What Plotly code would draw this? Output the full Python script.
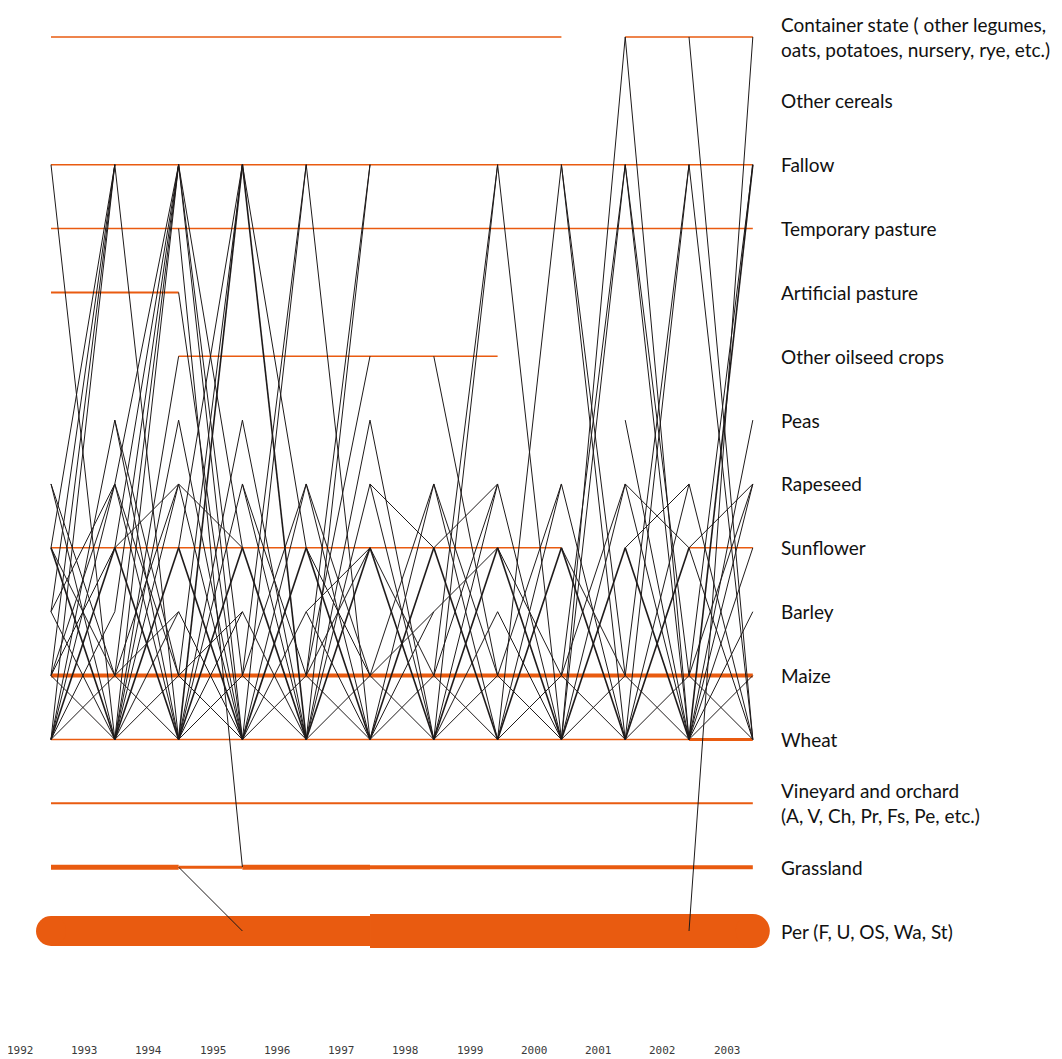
import plotly.graph_objects as go

# ---------------- data ----------------
years = list(range(1992, 2004))

cat_codes = ["E", "G", "V", "W", "M", "B", "S", "R", "P", "O", "A", "T", "F", "C", "K"]
cat_labels = [
    "Per (F, U, OS, Wa, St)",
    "Grassland",
    "Vineyard and orchard<br>(A, V, Ch, Pr, Fs, Pe, etc.)",
    "Wheat",
    "Maize",
    "Barley",
    "Sunflower",
    "Rapeseed",
    "Peas",
    "Other oilseed crops",
    "Artificial pasture",
    "Temporary pasture",
    "Fallow",
    "Other cereals",
    "Container state ( other legumes,<br>oats, potatoes, nursery, rye, etc.)",
]

# parcels staying in the same land use (orange)
stay_cat = ["K", "K", "F", "T", "A", "O", "S", "S", "M", "W", "W", "V", "G", "G", "G", "G", "E", "E"]
stay_from = [1992, 2001, 1992, 1992, 1992, 1994, 1992, 2002, 1992, 1992, 2002, 1992, 1992, 1994, 1995, 1997, 1992, 1997]
stay_to = [2000, 2003, 2003, 2003, 1994, 1999, 2000, 2003, 2003, 2002, 2003, 2003, 1994, 1995, 1997, 2003, 1997, 2003]
stay_parcels = [1, 1, 1, 1, 2, 1, 1, 1, 4, 1, 3, 2, 5, 3, 5, 4, 30, 34]

# transitions from year y to y+1 ("from>to", "*2" = two parcels)
t1992 = ["F>W", "W>F", "M>F", "B>F", "S>F", "R>W", "B>R", "W>P", "W>R", "M>R", "W>S*2", "S>W*2",
         "W>M", "M>W", "W>B", "S>M", "M>S", "B>W", "R>M"]
t1993 = ["F>W", "W>F", "M>F", "B>F", "S>F", "R>F", "P>W", "W>P", "R>W", "W>R", "M>R", "S>W*2", "W>S*2",
         "W>M", "M>W", "W>O", "M>B", "P>M", "R>M", "W>B", "S>R"]
t1994 = ["F>W", "F>M", "F>S", "T>G", "G>E", "W>F*2", "M>F", "S>F", "P>W", "W>P", "R>W", "W>R", "S>W*2",
         "W>S*2", "W>M", "M>W", "M>B", "W>B", "B>W", "R>S", "A>W"]
t1995 = ["F>W*2", "F>S", "W>F", "M>F", "P>W", "R>W", "W>R", "S>W*2", "W>S*2", "W>M", "M>W", "W>B",
         "B>W", "M>R", "R>M"]
t1996 = ["F>W", "W>F", "M>F", "M>O", "W>P", "R>W", "W>R", "S>W*2", "W>S*2", "W>M", "M>W", "B>S",
         "S>M", "M>S", "B>W", "R>M"]
t1997 = ["P>W", "R>W", "W>R", "S>W*2", "W>S*2", "W>M", "M>W", "M>R", "W>B", "M>B", "S>M", "R>S"]
t1998 = ["O>M", "W>F", "M>F", "R>W", "W>R", "S>W*2", "W>S*2", "W>M", "M>W", "B>S", "M>R", "S>R",
         "R>M", "W>B"]
t1999 = ["F>W", "W>F", "R>W", "W>R", "S>W*2", "W>S*2", "W>M", "M>W", "M>R", "S>M", "B>W"]
t2000 = ["F>W", "F>M", "W>K", "W>F", "M>F", "S>W*2", "W>S*2", "R>W", "W>R", "W>M", "M>W", "S>M", "M>R"]
t2001 = ["K>W", "F>W", "F>M", "P>W", "R>W", "W>R", "S>W*2", "W>S*2", "W>M", "M>W", "W>F", "M>F",
         "S>R", "R>S"]
t2002 = ["K>W", "E>K", "W>F*2", "M>F", "F>W", "W>P", "W>R", "M>R", "S>W", "W>S", "W>M", "M>W",
         "W>B", "R>W", "S>R"]

transition_lists = [t1992, t1993, t1994, t1995, t1996, t1997, t1998, t1999, t2000, t2001, t2002]

# ---------------- figure ----------------
idx = {c: i for i, c in enumerate(cat_codes)}
ORANGE = "#E95B10"

fig = go.Figure()

for c, a, b, n in zip(stay_cat, stay_from, stay_to, stay_parcels):
    fig.add_trace(go.Scatter(
        x=[a, b], y=[idx[c], idx[c]], mode="lines",
        line=dict(color=ORANGE, width=max(1.5, n)),
        hoverinfo="skip", showlegend=False))
    if n >= 20:
        ends = [x for x in (a, b) if x in (years[0], years[-1])]
        fig.add_trace(go.Scatter(
            x=ends, y=[idx[c]] * len(ends), mode="markers",
            marker=dict(color=ORANGE, size=n, symbol="circle", line=dict(width=0)),
            hoverinfo="skip", showlegend=False))

groups = {}
for yr, lst in zip(years[:-1], transition_lists):
    for item in lst:
        pair, _, mult = item.partition("*")
        f, t = pair.split(">")
        w = int(mult) if mult else 1
        xs, ys = groups.setdefault(w, ([], []))
        xs += [yr, yr + 1, None]
        ys += [idx[f], idx[t], None]

for w, (xs, ys) in sorted(groups.items()):
    fig.add_trace(go.Scatter(
        x=xs, y=ys, mode="lines",
        line=dict(color="#1e1a1a", width=1.0 if w == 1 else 1.6),
        hoverinfo="skip", showlegend=False))

annotations = []
for i, lab in enumerate(cat_labels):
    annotations.append(dict(
        x=2003.41, y=i, xref="x", yref="y", text=lab, showarrow=False,
        xanchor="left", yanchor="middle", align="left",
        font=dict(family="Lato, Open Sans, sans-serif", size=19, color="#111111")))
for yr in years:
    annotations.append(dict(
        x=yr - 0.48 + 0.007 * (yr - 1992), y=-1.87, xref="x", yref="y", text=str(yr),
        showarrow=False, xanchor="center", yanchor="middle",
        font=dict(family="DejaVu Sans Mono, monospace", size=11, color="#3a3a3a")))

# page body has an 8px margin: figure is sized/offset to land on the same pixels
fig.update_layout(
    width=1054, height=1051,
    margin=dict(l=0, r=0, t=0, b=0),
    paper_bgcolor="white", plot_bgcolor="white",
    xaxis=dict(range=[1991.326, 2007.846], visible=False, fixedrange=True),
    yaxis=dict(range=[-2.0044, 14.4535], visible=False, fixedrange=True),
    annotations=annotations,
    showlegend=False,
)

fig.write_html("out.html")
